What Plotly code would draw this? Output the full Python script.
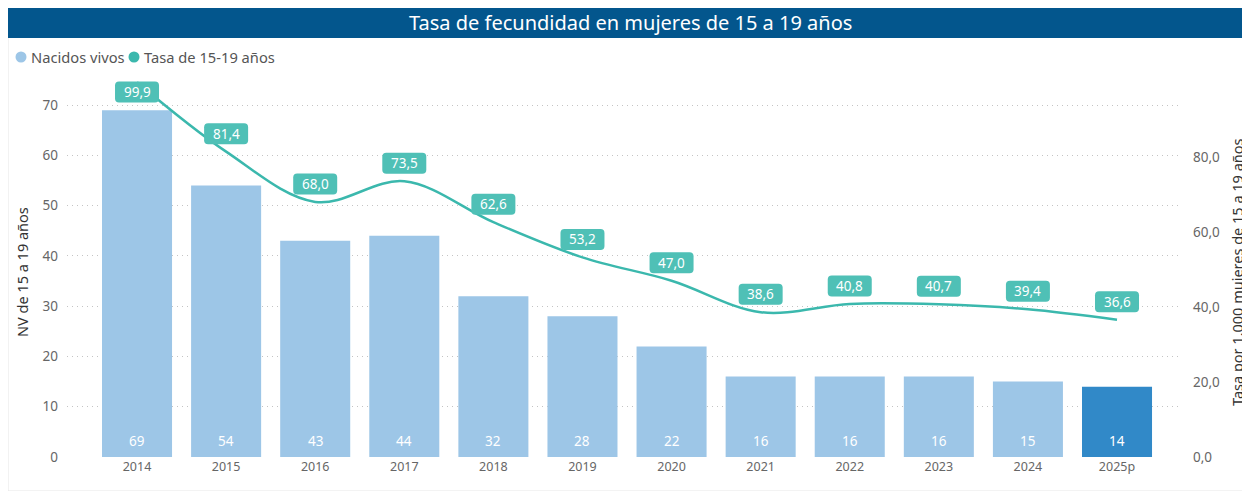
import plotly.graph_objects as go

# ---------------------------------------------------------------------------
# data
# ---------------------------------------------------------------------------
years = ["2014", "2015", "2016", "2017", "2018", "2019",
         "2020", "2021", "2022", "2023", "2024", "2025p"]
nacidos_vivos = [69, 54, 43, 44, 32, 28, 22, 16, 16, 16, 15, 14]
tasa = [99.9, 81.4, 68.0, 73.5, 62.6, 53.2, 47.0, 38.6, 40.8, 40.7, 39.4, 36.6]

TITLE = "Tasa de fecundidad en mujeres de 15 a 19 años"
LEFT_TITLE = "NV de 15 a 19 años"
RIGHT_TITLE = "Tasa por 1.000 mujeres de 15 a 19 años"

# ---------------------------------------------------------------------------
# layout constants: the page body adds an 8px margin, so the figure is
# drawn 8px smaller and every reference pixel position is shifted by -8
# ---------------------------------------------------------------------------
OFF = 8
W, H = 1250 - OFF, 491 - OFF
PLOT_LEFT, PLOT_RIGHT, PLOT_TOP, PLOT_BOTTOM = 67, 1180, 80, 457   # reference px
L, T = PLOT_LEFT - OFF, PLOT_TOP - OFF
R, B = W - (PLOT_RIGHT - OFF), H - (PLOT_BOTTOM - OFF)
PW, PH = W - L - R, H - T - B
Y1_MAX = 75.0
Y2_MAX = 100.5

FONT = "Segoe UI, Noto Sans, Open Sans, sans-serif"
BAR_COLOR = "#9DC6E7"
BAR_LAST = "#3189C8"
LINE_COLOR = "#3BB8AD"
BOX_COLOR = "#4FC0B6"
TITLE_BG = "#03568D"


def px_x(px):
    """reference-image x pixel -> paper coordinate"""
    return (px - OFF - L) / PW


def px_y(py):
    """reference-image y pixel -> paper coordinate"""
    return (H - B - (py - OFF)) / PH


fig = go.Figure()

bar_colors = [BAR_COLOR] * (len(years) - 1) + [BAR_LAST]
fig.add_trace(go.Bar(
    x=years, y=nacidos_vivos, name="Nacidos vivos",
    marker=dict(color=bar_colors, line=dict(width=0)),
    showlegend=False, hoverinfo="x+y",
))
fig.add_trace(go.Scatter(
    x=years, y=tasa, name="Tasa de 15-19 años", yaxis="y2",
    mode="lines", line=dict(color=LINE_COLOR, width=2.5, shape="spline", smoothing=1.0),
    showlegend=False,
))

annotations = []
shapes = []

# bar value labels near the base (x given as category index)
for i, n in enumerate(nacidos_vivos):
    annotations.append(dict(
        x=i, y=0, xref="x", yref="y", yshift=16, showarrow=False,
        text=str(n), font=dict(family=FONT, size=13.5, color="white"),
        yanchor="middle",
    ))

# rate labels in rounded teal boxes above the points (clamped at the top)
bw, bh, rr = 22, 10.5, 4
for i, v in enumerate(tasa):
    point_px = PLOT_TOP + (Y2_MAX - v) / Y2_MAX * PH
    off = min(18, point_px - 92)
    y0, y1 = off - bh, off + bh
    path = (f"M{-bw + rr},{y0} L{bw - rr},{y0} Q{bw},{y0} {bw},{y0 + rr} "
            f"L{bw},{y1 - rr} Q{bw},{y1} {bw - rr},{y1} L{-bw + rr},{y1} "
            f"Q{-bw},{y1} {-bw},{y1 - rr} L{-bw},{y0 + rr} Q{-bw},{y0} {-bw + rr},{y0} Z")
    shapes.append(dict(
        type="path", xref="x", yref="y2", xsizemode="pixel", ysizemode="pixel",
        xanchor=i, yanchor=v, path=path,
        fillcolor=BOX_COLOR, line=dict(width=0), layer="above",
    ))
    annotations.append(dict(
        x=i, y=v, xref="x", yref="y2", yshift=off, showarrow=False,
        text=f"{v:.1f}".replace(".", ","),
        font=dict(family=FONT, size=13.5, color="white"), yanchor="middle",
    ))

# title bar
shapes.append(dict(type="rect", xref="paper", yref="paper",
                   x0=px_x(OFF), x1=px_x(1250), y0=px_y(491), y1=px_y(OFF),
                   fillcolor="white", line=dict(color="#E6E6E6", width=1), layer="below"))
shapes.append(dict(type="rect", xref="paper", yref="paper",
                   x0=px_x(OFF), x1=px_x(1250), y0=px_y(38), y1=px_y(OFF),
                   fillcolor=TITLE_BG, line=dict(width=0), layer="below"))
annotations.append(dict(
    x=px_x(630), y=px_y(22), xref="paper", yref="paper", showarrow=False,
    text=TITLE, font=dict(family=FONT, size=20, color="white"),
    xanchor="center", yanchor="middle",
))

# legend drawn by hand (circle + label)
legend_items = [("Nacidos vivos", BAR_COLOR, 21), ("Tasa de 15-19 años", LINE_COLOR, 134)]
for label, col, cx in legend_items:
    shapes.append(dict(type="circle", xref="paper", yref="paper",
                       x0=px_x(cx - 5.5), x1=px_x(cx + 5.5),
                       y0=px_y(57 + 5.5), y1=px_y(57 - 5.5),
                       fillcolor=col, line=dict(width=0)))
    annotations.append(dict(
        x=px_x(cx + 8), y=px_y(57), xref="paper", yref="paper", showarrow=False,
        text=label, font=dict(family=FONT, size=14.7, color="#555555"),
        xanchor="left", yanchor="middle",
    ))

# axis titles
annotations.append(dict(
    x=px_x(22), y=px_y(272), xref="paper", yref="paper", showarrow=False,
    text=LEFT_TITLE, textangle=-90, font=dict(family=FONT, size=14.5, color="#333333"),
    xanchor="center", yanchor="middle",
))
annotations.append(dict(
    x=px_x(1237), y=px_y(272), xref="paper", yref="paper", showarrow=False,
    text=RIGHT_TITLE, textangle=-90, font=dict(family=FONT, size=14.5, color="#333333"),
    xanchor="center", yanchor="middle",
))

fig.update_layout(
    width=W, height=H,
    margin=dict(l=L, r=R, t=T, b=B, pad=0),
    paper_bgcolor="white", plot_bgcolor="white",
    separators=",.",
    bargap=0.214,
    showlegend=False,
    font=dict(family=FONT, color="#666666"),
    xaxis=dict(
        type="category", range=[-0.786, 11.707],
        showgrid=False, zeroline=False, showline=False, ticks="",
        tickfont=dict(family=FONT, size=12.5, color="#666666"),
    ),
    yaxis=dict(
        range=[0, Y1_MAX], dtick=10, showgrid=True, gridcolor="#C4C4C4",
        griddash="1px,4px", gridwidth=1, zeroline=False, showline=False,
        ticks="", ticklabelstandoff=8,
        tickfont=dict(family=FONT, size=13.5, color="#666666"),
    ),
    yaxis2=dict(
        range=[0, Y2_MAX], tickvals=[0, 20, 40, 60, 80], tickformat=".1f",
        overlaying="y", side="right",
        showgrid=False, zeroline=False, showline=False, ticks="",
        ticklabelstandoff=12,
        tickfont=dict(family=FONT, size=13.5, color="#666666"),
    ),
    annotations=annotations,
    shapes=shapes,
)

fig.write_html("out.html")
